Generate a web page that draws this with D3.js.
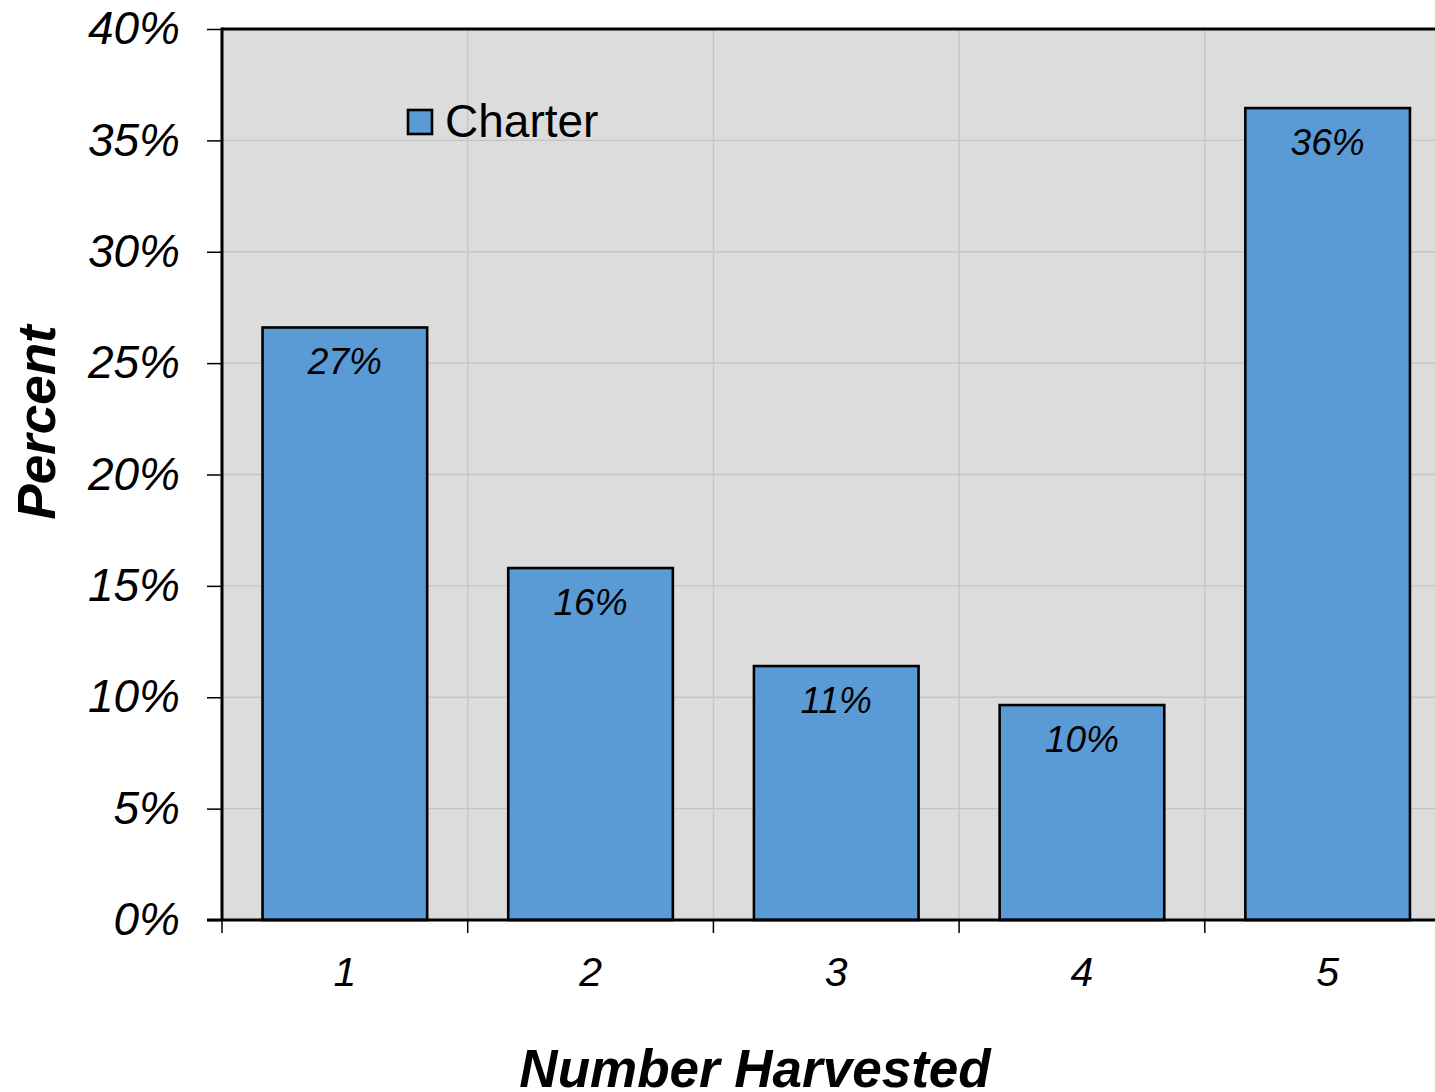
<!DOCTYPE html>
<html>
<head>
<meta charset="utf-8">
<script src="https://cdn.jsdelivr.net/npm/d3@7"></script>
<style>
  html, body { margin: 0; padding: 0; background: #fff; }
  svg { display: block; font-family: Arial, "Liberation Sans", sans-serif; }
</style>
</head>
<body>
<svg id="chart" width="1435" height="1092"></svg>
<script>
// Share of charter trips by number of fish harvested
const categories = ["1", "2", "3", "4", "5"];
const charterValues = [0.266, 0.158, 0.114, 0.0965, 0.3645];
const yTickValues = [0, 0.05, 0.10, 0.15, 0.20, 0.25, 0.30, 0.35, 0.40];
const seriesName = "Charter";

const svg = d3.select("#chart");
const plot = { left: 222, right: 1450.5, top: 29, bottom: 920 };

const x = d3.scaleBand()
  .domain(categories)
  .range([plot.left, plot.right])
  .paddingInner(0.33)
  .paddingOuter(0.165);

const y = d3.scaleLinear()
  .domain([0, 0.40])
  .range([plot.bottom, plot.top]);

const step = x.step();
const boundaries = categories.map((c, i) => plot.left + i * step).concat([plot.right]);

// plot background
svg.append("rect")
  .attr("x", plot.left).attr("y", plot.top)
  .attr("width", plot.right - plot.left).attr("height", plot.bottom - plot.top)
  .attr("fill", "#dcdcdc");

// horizontal gridlines
svg.append("g")
  .selectAll("line")
  .data(yTickValues.filter(v => v > 0 && v < 0.40))
  .join("line")
  .attr("x1", plot.left).attr("x2", plot.right)
  .attr("y1", d => y(d)).attr("y2", d => y(d))
  .attr("stroke", "#c4c4c4").attr("stroke-width", 1.3);

// vertical gridlines at category boundaries
svg.append("g")
  .selectAll("line")
  .data(boundaries.slice(1, -1))
  .join("line")
  .attr("x1", d => d).attr("x2", d => d)
  .attr("y1", plot.top).attr("y2", plot.bottom)
  .attr("stroke", "#c4c4c4").attr("stroke-width", 1.3);

// bars
svg.append("g")
  .selectAll("rect")
  .data(charterValues)
  .join("rect")
  .attr("x", (d, i) => x(categories[i]))
  .attr("y", d => y(d))
  .attr("width", x.bandwidth())
  .attr("height", d => y(0) - y(d))
  .attr("fill", "#5b9bd5")
  .attr("stroke", "#000")
  .attr("stroke-width", 2.6);

// value labels
const pct = d3.format(".0%");
svg.append("g")
  .selectAll("text")
  .data(charterValues)
  .join("text")
  .attr("x", (d, i) => x(categories[i]) + x.bandwidth() / 2)
  .attr("y", d => y(d) + 47)
  .attr("text-anchor", "middle")
  .attr("font-size", 37)
  .attr("font-style", "italic")
  .attr("fill", "#000")
  .text(d => pct(d));

// frame: top and left borders
svg.append("line")
  .attr("x1", plot.left).attr("x2", plot.right)
  .attr("y1", plot.top).attr("y2", plot.top)
  .attr("stroke", "#000").attr("stroke-width", 3);
svg.append("line")
  .attr("x1", plot.left).attr("x2", plot.left)
  .attr("y1", plot.top - 1.5).attr("y2", plot.bottom)
  .attr("stroke", "#000").attr("stroke-width", 3);

// y axis
const yAxis = svg.append("g")
  .attr("transform", `translate(${plot.left},0)`)
  .call(d3.axisLeft(y).tickValues(yTickValues).tickFormat(d3.format(".0%")).tickSize(15).tickPadding(27));
yAxis.select(".domain").remove();
yAxis.selectAll(".tick line").attr("stroke", "#000").attr("stroke-width", 1.5);
yAxis.selectAll(".tick text")
  .attr("font-size", 46)
  .attr("font-style", "italic")
  .attr("font-family", "Arial, 'Liberation Sans', sans-serif")
  .attr("fill", "#000");

// x axis
const xAxis = svg.append("g")
  .attr("transform", `translate(0,${plot.bottom})`)
  .call(d3.axisBottom(x).tickSize(0).tickPadding(37));
xAxis.select(".domain").remove();
xAxis.selectAll(".tick text")
  .attr("font-size", 41)
  .attr("font-style", "italic")
  .attr("font-family", "Arial, 'Liberation Sans', sans-serif")
  .attr("fill", "#000");
svg.append("g")
  .selectAll("line")
  .data(boundaries)
  .join("line")
  .attr("x1", d => d).attr("x2", d => d)
  .attr("y1", plot.bottom).attr("y2", plot.bottom + 13)
  .attr("stroke", "#000").attr("stroke-width", 1.5);
svg.append("line")
  .attr("x1", plot.left - 15).attr("x2", plot.right)
  .attr("y1", plot.bottom).attr("y2", plot.bottom)
  .attr("stroke", "#000").attr("stroke-width", 3);

// axis titles
svg.append("text")
  .attr("transform", `translate(55,${(plot.top + plot.bottom) / 2 - 52}) rotate(-90)`)
  .attr("text-anchor", "middle")
  .attr("font-size", 53)
  .attr("font-weight", "bold")
  .attr("font-style", "italic")
  .attr("fill", "#000")
  .text("Percent");

svg.append("text")
  .attr("x", 755)
  .attr("y", 1087)
  .attr("text-anchor", "middle")
  .attr("font-size", 53)
  .attr("font-weight", "bold")
  .attr("font-style", "italic")
  .attr("fill", "#000")
  .text("Number Harvested");

// legend
const legend = svg.append("g").attr("transform", "translate(408,110)");
legend.append("rect")
  .attr("width", 24).attr("height", 24)
  .attr("fill", "#5b9bd5").attr("stroke", "#000").attr("stroke-width", 2.6);
legend.append("text")
  .attr("x", 37).attr("y", 27)
  .attr("font-size", 46)
  .attr("fill", "#000")
  .text(seriesName);
</script>
</body>
</html>
